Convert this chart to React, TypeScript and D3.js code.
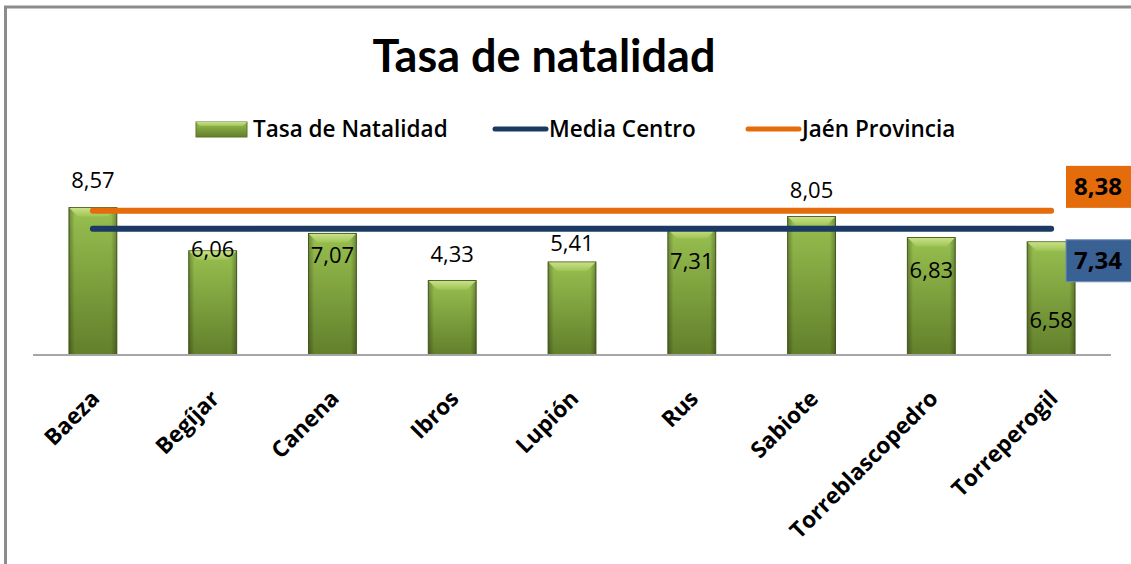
import React, { useEffect, useRef } from 'react';
import * as d3 from 'd3';

const categories = ['Baeza', 'Begíjar', 'Canena', 'Ibros', 'Lupión', 'Rus', 'Sabiote', 'Torreblascopedro', 'Torreperogil'];
const natalidad = [8.57, 6.06, 7.07, 4.33, 5.41, 7.31, 8.05, 6.83, 6.58];
const mediaCentro = [7.34, 7.34, 7.34, 7.34, 7.34, 7.34, 7.34, 7.34, 7.34];
const jaenProvincia = [8.38, 8.38, 8.38, 8.38, 8.38, 8.38, 8.38, 8.38, 8.38];

const title = 'Tasa de natalidad';
const legendLabels = ['Tasa de Natalidad', 'Media Centro', 'Jaén Provincia'];

// manual vertical offsets of the value labels (relative to bar top), as in the original
const labelDy = [-27, -1, 22, -26, -19, 32, -26, 33, 78];

const fmt = (v: number) => v.toFixed(2).replace('.', ',');

const W = 1131;
const H = 564;
const TITLE_FONT = 'Lato, "Open Sans", sans-serif';
const FONT = '"Open Sans", Lato, sans-serif';
const ORANGE = '#E46C0A';
const NAVY = '#1B3A63';
const BLUE_BOX = '#3A6194';

const App: React.FC = () => {
  const svgRef = useRef<SVGSVGElement>(null);

  useEffect(() => {
    if (!svgRef.current) return;
    const svg = d3.select(svgRef.current);
    svg.selectAll('*').remove();

    const x = d3.scaleBand<string>()
      .domain(categories)
      .range([33, 1111])
      .paddingInner(0.6)
      .paddingOuter(0.3);

    const y = d3.scaleLinear()
      .domain([0, 10])
      .range([355, 183]);

    const defs = svg.append('defs');
    const g1 = defs.append('linearGradient').attr('id', 'barFill')
      .attr('x1', 0).attr('y1', 0).attr('x2', 0).attr('y2', 1);
    g1.append('stop').attr('offset', '0%').attr('stop-color', '#98C050');
    g1.append('stop').attr('offset', '100%').attr('stop-color', '#627F2B');

    const g2 = defs.append('linearGradient').attr('id', 'barSide')
      .attr('x1', 0).attr('y1', 0).attr('x2', 1).attr('y2', 0);
    g2.append('stop').attr('offset', '0%').attr('stop-color', '#000').attr('stop-opacity', 0.28);
    g2.append('stop').attr('offset', '12%').attr('stop-color', '#000').attr('stop-opacity', 0);
    g2.append('stop').attr('offset', '88%').attr('stop-color', '#000').attr('stop-opacity', 0);
    g2.append('stop').attr('offset', '100%').attr('stop-color', '#000').attr('stop-opacity', 0.28);

    const g3 = defs.append('linearGradient').attr('id', 'barTop')
      .attr('x1', 0).attr('y1', 0).attr('x2', 0).attr('y2', 1);
    g3.append('stop').attr('offset', '0%').attr('stop-color', '#C8E088');
    g3.append('stop').attr('offset', '100%').attr('stop-color', '#A0C455');

    // Outer frame
    svg.append('rect')
      .attr('x', 5.5).attr('y', 7)
      .attr('width', W + 20).attr('height', H + 20)
      .attr('fill', '#fff')
      .attr('stroke', '#8C8C8C')
      .attr('stroke-width', 3);

    // Title
    svg.append('text')
      .attr('x', 544).attr('y', 72)
      .attr('text-anchor', 'middle')
      .attr('font-family', TITLE_FONT)
      .attr('font-weight', 'bold')
      .attr('font-size', '45px')
      .attr('fill', '#000')
      .text(title);

    // Legend
    const legend = svg.append('g').attr('font-family', FONT).attr('font-size', '22.5px').attr('font-weight', 600);
    const sw = legend.append('g');
    sw.append('rect').attr('x', 196).attr('y', 122).attr('width', 51).attr('height', 15)
      .attr('fill', 'url(#barFill)').attr('stroke', '#5A7526').attr('stroke-width', 1);
    sw.append('polygon').attr('points', '196,122 247,122 243,126 200,126').attr('fill', 'url(#barTop)');
    legend.append('text').attr('x', 253).attr('y', 129).attr('dy', '0.35em').text(legendLabels[0]);
    legend.append('line').attr('x1', 495).attr('x2', 546).attr('y1', 129).attr('y2', 129)
      .attr('stroke', NAVY).attr('stroke-width', 5).attr('stroke-linecap', 'round');
    legend.append('text').attr('x', 549).attr('y', 129).attr('dy', '0.35em').text(legendLabels[1]);
    legend.append('line').attr('x1', 748).attr('x2', 799).attr('y1', 129).attr('y2', 129)
      .attr('stroke', ORANGE).attr('stroke-width', 5).attr('stroke-linecap', 'round');
    legend.append('text').attr('x', 802).attr('y', 129).attr('dy', '0.35em').text(legendLabels[2]);

    // Bars
    const data = categories.map((c, i) => ({ c, v: natalidad[i], dy: labelDy[i] }));
    const bw = x.bandwidth();
    const bars = svg.append('g').selectAll('g').data(data).enter().append('g');
    bars.append('rect')
      .attr('x', d => x(d.c)!)
      .attr('y', d => y(d.v))
      .attr('width', bw)
      .attr('height', d => y(0) - y(d.v))
      .attr('fill', 'url(#barFill)')
      .attr('stroke', '#4F6622')
      .attr('stroke-width', 1);
    bars.append('rect')
      .attr('x', d => x(d.c)!)
      .attr('y', d => y(d.v))
      .attr('width', bw)
      .attr('height', d => y(0) - y(d.v))
      .attr('fill', 'url(#barSide)');
    bars.append('polygon')
      .attr('points', d => {
        const x0 = x(d.c)!;
        const y0 = y(d.v);
        const b = 9;
        return `${x0 + 0.5},${y0 + 0.5} ${x0 + bw - 0.5},${y0 + 0.5} ${x0 + bw - b},${y0 + b} ${x0 + b},${y0 + b}`;
      })
      .attr('fill', 'url(#barTop)');

    // Axis line
    svg.append('line')
      .attr('x1', 33).attr('x2', 1111)
      .attr('y1', y(0)).attr('y2', y(0))
      .attr('stroke', '#A6A6A6').attr('stroke-width', 2);

    // Reference lines
    const cx = (c: string) => x(c)! + bw / 2;
    const line = d3.line<number>()
      .x((_, i) => cx(categories[i]))
      .y(d => y(d));
    svg.append('path').attr('d', line(jaenProvincia))
      .attr('fill', 'none').attr('stroke', ORANGE).attr('stroke-width', 6).attr('stroke-linecap', 'round');
    svg.append('path').attr('d', line(mediaCentro))
      .attr('fill', 'none').attr('stroke', NAVY).attr('stroke-width', 6).attr('stroke-linecap', 'round');

    // Value labels
    svg.append('g').selectAll('text').data(data).enter().append('text')
      .attr('x', d => cx(d.c))
      .attr('y', d => y(d.v) + d.dy)
      .attr('dy', '0.35em')
      .attr('text-anchor', 'middle')
      .attr('font-family', FONT)
      .attr('font-size', '22px')
      .attr('fill', '#000')
      .text(d => fmt(d.v));

    // End labels for reference lines
    const last = categories.length - 1;
    const endLabels = [
      { v: jaenProvincia[last], fill: ORANGE, off: -24 },
      { v: mediaCentro[last], fill: BLUE_BOX, off: 32 },
    ];
    endLabels.forEach(l => {
      const yc = y(l.v) + l.off;
      svg.append('rect')
        .attr('x', 1066).attr('y', yc - 21)
        .attr('width', 80).attr('height', 42)
        .attr('fill', l.fill)
        .attr('stroke', l.fill === BLUE_BOX ? '#6F8FB8' : 'none');
      svg.append('text')
        .attr('x', 1098).attr('y', yc)
        .attr('dy', '0.35em')
        .attr('text-anchor', 'middle')
        .attr('font-family', FONT)
        .attr('font-weight', 'bold')
        .attr('font-size', '24px')
        .attr('fill', '#000')
        .text(fmt(l.v));
    });

    // Category labels, rotated
    svg.append('g').selectAll('text').data(categories).enter().append('text')
      .attr('transform', c => `translate(${cx(c) + 8},${400}) rotate(-45)`)
      .attr('text-anchor', 'end')
      .attr('font-family', FONT)
      .attr('font-weight', 'bold')
      .attr('font-size', '22.5px')
      .attr('fill', '#000')
      .text(c => c);
  }, []);

  return (
    <svg
      ref={svgRef}
      width={W}
      height={H}
      style={{ position: 'absolute', left: 0, top: 0, background: '#fff' }}
    />
  );
};

export default App;
